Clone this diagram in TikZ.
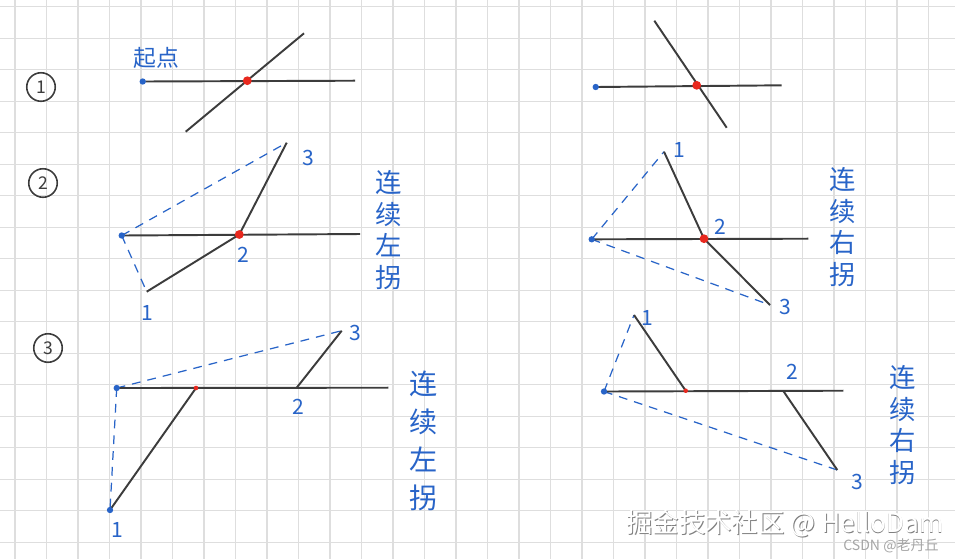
\documentclass[tikz,border=0pt]{standalone}
\usepackage{fontspec}
\newfontfamily\cjk{Noto Sans CJK SC}
\usetikzlibrary{positioning}
\definecolor{inkBlue}{RGB}{40,100,200}
\definecolor{inkRed}{RGB}{232,40,30}
\definecolor{inkGray}{RGB}{60,60,60}
\definecolor{gridGray}{RGB}{222,222,222}
\tikzstyle{gridLine} = [gridGray, line width=0.6pt]
\tikzstyle{startNode} = [circle, inner sep=0pt, minimum size=3.6pt, fill=inkBlue]
\tikzstyle{crossNode} = [circle, inner sep=0pt, minimum size=5pt, fill=inkRed]
\tikzstyle{smallCross} = [circle, inner sep=0pt, minimum size=2.6pt, fill=inkRed]
\tikzstyle{link} = [inkGray, line width=1.1pt]
\tikzstyle{guide} = [inkBlue, line width=0.7pt, dash pattern=on 5pt off 4pt]
\tikzstyle{tag} = [inkBlue, font=\cjk\fontsize{12}{12}\selectfont]
\tikzstyle{stepMark} = [circle, draw=inkGray, line width=0.9pt, minimum size=0.57cm, inner sep=0pt, text=inkGray, font=\cjk\fontsize{10}{10}\selectfont]
\tikzstyle{turnText} = [inkBlue, align=center, font=\cjk\fontsize{15}{18}\selectfont]
\begin{document}
\begin{tikzpicture}[x=0.02cm, y=-0.02cm]
\useasboundingbox[fill=white] (0,0) rectangle (955,559);
% paper grid
\foreach \k in {0,...,29}
  \draw[gridLine] (15+31.5*\k,0) -- (15+31.5*\k,559);
\foreach \k in {0,...,17}
  \draw[gridLine] (0,6.7+31.5*\k) -- (955,6.7+31.5*\k);

% step marks
\node (m1) [stepMark] at (41,87) {1};
\node (m2) [stepMark] at (43,183) {2};
\node (m3) [stepMark] at (48,348) {3};

% case 1, left
\coordinate (p1s) at (142.7,81.5);
\coordinate (p1c) at (247.3,80.7);
\coordinate (p1e) at (355,80.7);
\coordinate (p1a) at (185.7,131.7);
\coordinate (p1b) at (304,33.3);
\draw [link] (p1s) -- (p1e);
\draw [link] (p1a) -- (p1b);
\node (p1sDot) [startNode] at (p1s) {};
\node (p1cDot) [crossNode] at (p1c) {};
\node (start) [tag, font=\cjk\fontsize{13}{13}\selectfont] at (156,58) {起点};

% case 1, right
\coordinate (q1s) at (595.7,87);
\coordinate (q1c) at (696.7,85.3);
\coordinate (q1e) at (781.7,85.3);
\coordinate (q1a) at (654.3,20.7);
\coordinate (q1b) at (726.7,127.7);
\draw [link] (q1s) -- (q1e);
\draw [link] (q1a) -- (q1b);
\node (q1sDot) [startNode] at (q1s) {};
\node (q1cDot) [crossNode] at (q1c) {};

% case 2, left
\coordinate (p2s) at (121.7,235.5);
\coordinate (p2c) at (239.3,234.5);
\coordinate (p2e) at (360,234);
\coordinate (p2t1) at (146.7,291.7);
\coordinate (p2t3) at (286.7,142.7);
\draw [guide] (p2s) -- (p2t3);
\draw [guide] (p2s) -- (p2t1);
\draw [link] (p2s) -- (p2e);
\draw [link] (p2t1) -- (p2c) -- (p2t3);
\node (p2sDot) [startNode] at (p2s) {};
\node (p2cDot) [crossNode] at (p2c) {};
\node (p2l1) [tag] at (147,313) {1};
\node (p2l2) [tag] at (243,255) {2};
\node (p2l3) [tag] at (308,158) {3};
\node (p2turn) [turnText] at (389,230) {连\\续\\左\\拐};

% case 2, right
\coordinate (q2s) at (591.7,239.3);
\coordinate (q2c) at (704,238.7);
\coordinate (q2e) at (808.3,238.7);
\coordinate (q2t1) at (664,151.7);
\coordinate (q2t3) at (770,305);
\draw [guide] (q2s) -- (q2t1);
\draw [guide] (q2s) -- (q2t3);
\draw [link] (q2s) -- (q2e);
\draw [link] (q2t1) -- (q2c) -- (q2t3);
\node (q2sDot) [startNode] at (q2s) {};
\node (q2cDot) [crossNode] at (q2c) {};
\node (q2l1) [tag] at (679,150) {1};
\node (q2l2) [tag] at (720,227) {2};
\node (q2l3) [tag] at (785,307) {3};
\node (q2turn) [turnText] at (843,227) {连\\续\\右\\拐};

% case 3, left
\coordinate (p3s) at (116.7,388);
\coordinate (p3c) at (196,388);
\coordinate (p3e) at (388.3,387.7);
\coordinate (p3t1) at (110,510);
\coordinate (p3t2) at (296.7,387.7);
\coordinate (p3t3) at (341.7,330.7);
\draw [guide] (p3s) -- (p3t3);
\draw [guide] (p3s) -- (p3t1);
\draw [link] (p3s) -- (p3e);
\draw [link] (p3c) -- (p3t1);
\draw [link] (p3t2) -- (p3t3);
\node (p3sDot) [startNode] at (p3s) {};
\node (p3cDot) [smallCross] at (p3c) {};
\node (p3t1Dot) [startNode] at (p3t1) {};
\node (p3l1) [tag] at (117,530) {1};
\node (p3l2) [tag] at (298,407) {2};
\node (p3l3) [tag] at (355,333) {3};
\node (p3turn) [turnText, font=\cjk\fontsize{16}{21.5}\selectfont] at (424,441) {连\\续\\左\\拐};

% case 3, right
\coordinate (q3s) at (604,391.5);
\coordinate (q3c) at (685.7,390.7);
\coordinate (q3e) at (843.3,390.7);
\coordinate (q3t1) at (634,315);
\coordinate (q3t2) at (783.3,391);
\coordinate (q3t3) at (837.3,470);
\draw [guide] (q3s) -- (q3t1);
\draw [guide] (q3s) -- (q3t3);
\draw [link] (q3s) -- (q3e);
\draw [link] (q3c) -- (q3t1);
\draw [link] (q3t2) -- (q3t3);
\node (q3sDot) [startNode] at (q3s) {};
\node (q3cDot) [smallCross] at (q3c) {};
\node (q3l1) [tag] at (647,318) {1};
\node (q3l2) [tag] at (792,372) {2};
\node (q3l3) [tag] at (857,482) {3};
\node (q3turn) [turnText] at (903,425) {连\\续\\右\\拐};

% watermarks
\node (wmShadow) [gray, inner sep=0pt, font=\cjk\fontsize{15}{15}\selectfont] at (785.8,524.8) {掘金技术社区 @ HelloDam};
\node (wmText) [white, inner sep=0pt, font=\cjk\fontsize{15}{15}\selectfont] at (785,524) {掘金技术社区 @ HelloDam};
\node (csdn) [gray!70, inner sep=0pt, font=\cjk\fontsize{8}{8}\selectfont] at (891,546) {CSDN @老丹丘};
\end{tikzpicture}
\end{document}
